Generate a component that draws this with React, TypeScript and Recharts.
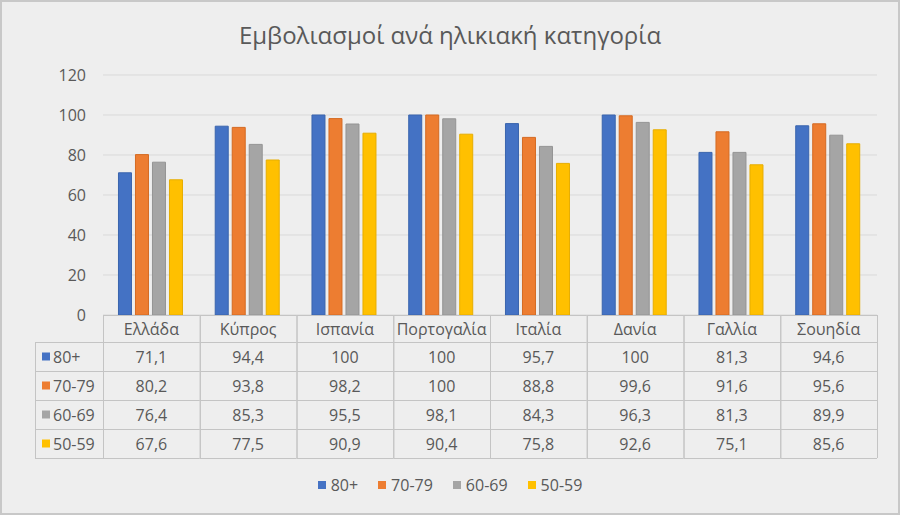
import React from 'react';
import { BarChart, Bar, XAxis, YAxis, CartesianGrid, Legend } from 'recharts';

// values per country, one array per age group
const countries = ['Ελλάδα', 'Κύπρος', 'Ισπανία', 'Πορτογαλία', 'Ιταλία', 'Δανία', 'Γαλλία', 'Σουηδία'];
const age80plus = [71.1, 94.4, 100, 100, 95.7, 100, 81.3, 94.6];
const age70to79 = [80.2, 93.8, 98.2, 100, 88.8, 99.6, 91.6, 95.6];
const age60to69 = [76.4, 85.3, 95.5, 98.1, 84.3, 96.3, 81.3, 89.9];
const age50to59 = [67.6, 77.5, 90.9, 90.4, 75.8, 92.6, 75.1, 85.6];
const yTicks = [0, 20, 40, 60, 80, 100, 120];

const series = [
  { key: '80+', values: age80plus, fill: '#4472c4', stroke: '#3a64ad' },
  { key: '70-79', values: age70to79, fill: '#ed7d31', stroke: '#d46a22' },
  { key: '60-69', values: age60to69, fill: '#a5a5a5', stroke: '#949494' },
  { key: '50-59', values: age50to59, fill: '#ffc000', stroke: '#e6ad00' },
];

const data = countries.map((name, i) => {
  const row: Record<string, string | number> = { name };
  series.forEach(s => { row[s.key] = s.values[i]; });
  return row;
});

const FONT = '"Open Sans", "Noto Sans", sans-serif';
const TEXT = '#595959';
const LINE = '#c4c4c4';
const COL_W = (877 - 103) / countries.length;
const HEAD_H = 27;
const ROW_H = 29;
const LABEL_W = 68;

const fmt = (v: number) => String(v).replace('.', ',');

// the x axis draws the data table column by column
const TableTick = (props: any) => {
  const { x, y, index, payload } = props;
  const left = x - COL_W / 2;
  const right = x + COL_W / 2;
  const bottom = y + HEAD_H + ROW_H * series.length;
  const rowsTop = y + HEAD_H;
  return (
    <g fontFamily={FONT} fontSize={16} fill={TEXT}>
      <line x1={left} x2={right} y1={y + 0.5} y2={y + 0.5} stroke={LINE} />
      <line x1={left + 0.5} x2={left + 0.5} y1={y} y2={bottom} stroke={LINE} />
      <line x1={right + 0.5} x2={right + 0.5} y1={y} y2={bottom} stroke={LINE} />
      <text x={x} y={y + HEAD_H / 2} textAnchor="middle" dominantBaseline="central" fill={TEXT}>
        {payload.value}
      </text>
      {series.map((s, r) => {
        const top = rowsTop + r * ROW_H;
        return (
          <g key={s.key}>
            <line x1={left} x2={right} y1={top + 0.5} y2={top + 0.5} stroke={LINE} />
            <text x={x} y={top + ROW_H / 2} textAnchor="middle" dominantBaseline="central" fill={TEXT}>
              {fmt(s.values[index])}
            </text>
          </g>
        );
      })}
      <line x1={left} x2={right} y1={bottom + 0.5} y2={bottom + 0.5} stroke={LINE} />
      {index === 0 && (
        <g>
          <line x1={left - LABEL_W + 0.5} x2={left - LABEL_W + 0.5} y1={rowsTop} y2={bottom} stroke={LINE} />
          {series.map((s, r) => {
            const top = rowsTop + r * ROW_H;
            return (
              <g key={s.key}>
                <line x1={left - LABEL_W} x2={left} y1={top + 0.5} y2={top + 0.5} stroke={LINE} />
                <rect x={left - LABEL_W + 7} y={top + ROW_H / 2 - 4} width={8} height={8} fill={s.fill} />
                <text x={left - LABEL_W + 18} y={top + ROW_H / 2} dominantBaseline="central" fill={TEXT}>
                  {s.key}
                </text>
              </g>
            );
          })}
          <line x1={left - LABEL_W} x2={left} y1={bottom + 0.5} y2={bottom + 0.5} stroke={LINE} />
        </g>
      )}
    </g>
  );
};

const LegendContent = () => (
  <div style={{ height: 30, display: 'flex', justifyContent: 'center', alignItems: 'center', gap: 20, fontFamily: FONT, fontSize: 16, color: TEXT }}>
    {series.map(s => (
      <span key={s.key} style={{ display: 'flex', alignItems: 'center', gap: 5 }}>
        <span style={{ width: 8, height: 8, background: s.fill, display: 'inline-block' }} />
        {s.key}
      </span>
    ))}
  </div>
);

export default function App() {
  return (
    <div style={{ position: 'absolute', left: 0, top: 0, width: 900, height: 515, background: '#eeeeee', boxShadow: 'inset 0 0 0 2px #c8c8c8' }}>
      <div style={{ position: 'absolute', top: 18, width: 900, textAlign: 'center', fontFamily: FONT, fontSize: 24, color: TEXT }}>
        Εμβολιασμοί ανά ηλικιακή κατηγορία
      </div>
      <BarChart width={900} height={515} data={data} margin={{ top: 75, right: 23, left: 0, bottom: 15 }} barGap={4} barCategoryGap="16%">
        <CartesianGrid vertical={false} stroke="#d9d9d9" />
        <XAxis dataKey="name" height={155} tickSize={0} tickMargin={0} axisLine={false} tickLine={false} interval={0} tick={<TableTick />} />
        <YAxis width={103} domain={[0, 120]} ticks={yTicks} axisLine={false} tickLine={false} tickSize={0} tickMargin={17}
          tick={{ fill: TEXT, fontSize: 16, fontFamily: FONT }} />
        <Legend verticalAlign="bottom" height={30} wrapperStyle={{ left: 0, width: 900 }} content={<LegendContent />} />
        {series.map(s => (
          <Bar key={s.key} dataKey={s.key} fill={s.fill} stroke={s.stroke} strokeWidth={1} isAnimationActive={false} />
        ))}
      </BarChart>
    </div>
  );
}
